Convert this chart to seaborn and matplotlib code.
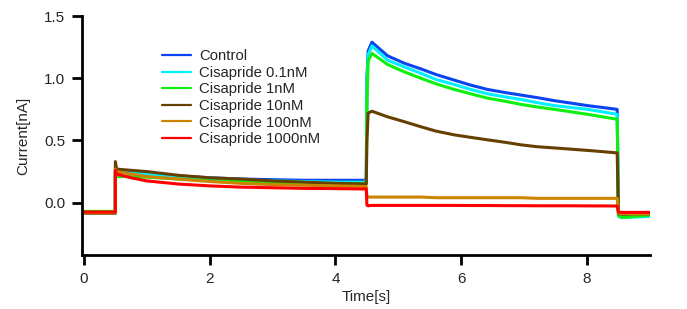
import matplotlib
matplotlib.use("Agg")
import matplotlib.pyplot as plt
import seaborn as sns
import pandas as pd
from matplotlib import font_manager

# ---- data ----
time_s = [0.0, 0.5, 0.5, 0.52, 0.75, 1.0, 1.5, 2.0, 2.5, 3.0, 3.5, 4.0, 4.49,
          4.5, 4.52, 4.58, 4.83, 5.1, 5.36, 5.6, 5.89, 6.15, 6.42, 6.7, 6.95,
          7.2, 7.48, 7.75, 8.01, 8.25, 8.48, 8.5, 8.55, 9.0]

control = [-0.075, -0.075, 0.25, 0.25, 0.245, 0.235, 0.215, 0.2, 0.19, 0.185, 0.18, 0.18, 0.18,
           1.0, 1.22, 1.29, 1.18, 1.12, 1.075, 1.03, 0.985, 0.945, 0.91, 0.885, 0.865,
           0.845, 0.82, 0.8, 0.78, 0.765, 0.75, -0.1, -0.11, -0.105]
cis_01 = [-0.075, -0.075, 0.24, 0.245, 0.24, 0.23, 0.21, 0.195, 0.185, 0.175, 0.17, 0.165, 0.165,
          0.95, 1.19, 1.26, 1.145, 1.09, 1.04, 0.99, 0.95, 0.91, 0.875, 0.85, 0.83,
          0.805, 0.78, 0.765, 0.75, 0.73, 0.71, -0.11, -0.12, -0.11]
cis_1 = [-0.07, -0.07, 0.2, 0.21, 0.21, 0.205, 0.19, 0.175, 0.17, 0.16, 0.155, 0.155, 0.155,
         0.8, 1.14, 1.2, 1.11, 1.05, 1.0, 0.955, 0.91, 0.875, 0.84, 0.815, 0.79,
         0.77, 0.75, 0.73, 0.71, 0.69, 0.67, -0.1, -0.12, -0.1]
cis_10 = [-0.085, -0.085, 0.33, 0.27, 0.26, 0.25, 0.22, 0.2, 0.19, 0.175, 0.165, 0.155, 0.15,
          0.5, 0.72, 0.735, 0.69, 0.65, 0.61, 0.575, 0.545, 0.525, 0.505, 0.485, 0.465,
          0.45, 0.44, 0.43, 0.42, 0.41, 0.4, -0.09, -0.09, -0.09]
cis_100 = [-0.08, -0.08, 0.27, 0.25, 0.23, 0.21, 0.19, 0.17, 0.155, 0.145, 0.14, 0.135, 0.13,
           0.045, 0.045, 0.045, 0.045, 0.045, 0.045, 0.04, 0.04, 0.04, 0.04, 0.04, 0.04,
           0.035, 0.035, 0.035, 0.035, 0.035, 0.035, -0.085, -0.09, -0.09]
cis_1000 = [-0.075, -0.075, 0.26, 0.23, 0.2, 0.175, 0.15, 0.135, 0.125, 0.12, 0.115, 0.113, 0.11,
            -0.02, -0.025, -0.022, -0.022, -0.022, -0.022, -0.022, -0.022, -0.023, -0.023, -0.024, -0.024,
            -0.025, -0.025, -0.025, -0.026, -0.026, -0.027, -0.075, -0.078, -0.078]

series_names = ["Control", "Cisapride 0.1nM", "Cisapride 1nM",
                "Cisapride 10nM", "Cisapride 100nM", "Cisapride 1000nM"]
series_values = [control, cis_01, cis_1, cis_10, cis_100, cis_1000]
colors = ["#0a44f0", "#00f0ff", "#10f010", "#664000", "#cc8400", "#ff0000"]

x_ticks = [0, 2, 4, 6, 8]
y_ticks = [0.0, 0.5, 1.0, 1.5]

rows = []
for name, vals in zip(series_names, series_values):
    for t, v in zip(time_s, vals):
        rows.append({"Time": t, "Current": v, "Series": name})
df = pd.DataFrame(rows)

sns.set_style("white")
names = {f.name for f in font_manager.fontManager.ttflist}
narrow = "Liberation Sans Narrow" if "Liberation Sans Narrow" in names else "Liberation Sans"
plt.rcParams["font.family"] = ["Liberation Sans", "DejaVu Sans"]

fig = plt.figure(figsize=(6.87, 3.09), dpi=100)
ax = fig.add_axes([0.1194, 0.175, 0.946 - 0.1194, 0.948 - 0.175])

sns.lineplot(data=df, x="Time", y="Current", hue="Series", palette=colors,
             hue_order=series_names, estimator=None, sort=False,
             linewidth=2.2, ax=ax, legend=True)

ax.set_xlim(-0.03, 9.0)
ax.set_ylim(-0.42, 1.5)
ax.set_xticks(x_ticks)
ax.set_xticklabels([str(v) for v in x_ticks], fontfamily=narrow, fontsize=11)
ax.set_yticks(y_ticks)
ax.set_yticklabels([f"{v:.1f}" for v in y_ticks], fontfamily=narrow, fontsize=11)
ax.set_xlabel("Time[s]", fontfamily=narrow, fontsize=11, labelpad=3)
ax.set_ylabel("Current[nA]", fontfamily=narrow, fontsize=11, labelpad=10)

for s in ["top", "right"]:
    ax.spines[s].set_visible(False)
for s in ["left", "bottom"]:
    ax.spines[s].set_color("black")
    ax.spines[s].set_linewidth(2.0)
ax.tick_params(axis="both", direction="out", length=7.2, width=2.0, color="black",
               left=True, bottom=True, pad=5)

handles, labels = ax.get_legend_handles_labels()
for h in handles:
    h.set_linewidth(1.6)
ax.legend(handles, labels, loc="upper left", bbox_to_anchor=(0.131, 0.886),
          frameon=False, fontsize=10.7, handlelength=1.95, handletextpad=0.5,
          labelspacing=0.175, borderaxespad=0)

fig.savefig("out.png", dpi=100)
